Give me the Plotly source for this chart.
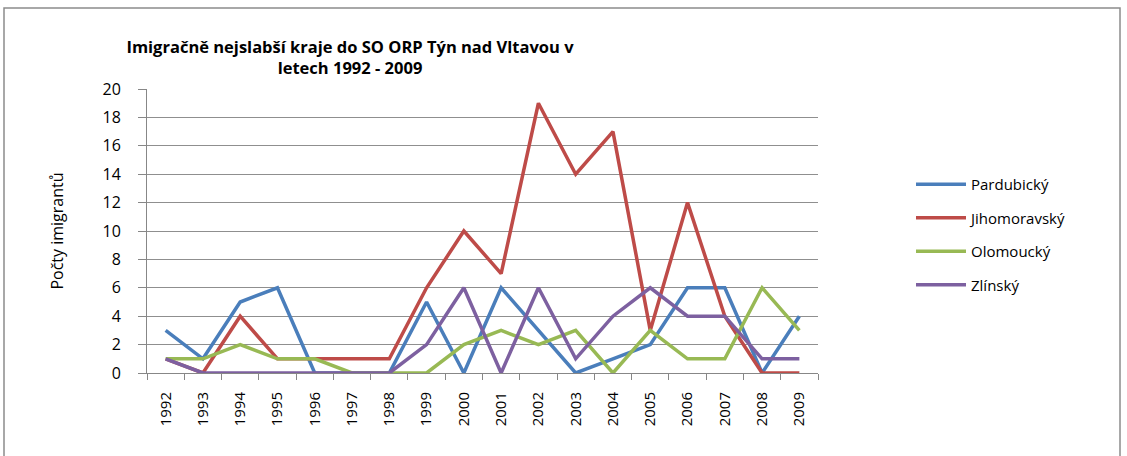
import plotly.graph_objects as go

years = [str(y) for y in range(1992, 2010)]
pardubicky = [3, 1, 5, 6, 0, 0, 0, 5, 0, 6, 3, 0, 1, 2, 6, 6, 0, 4]
jihomoravsky = [1, 0, 4, 1, 1, 1, 1, 6, 10, 7, 19, 14, 17, 3, 12, 4, 0, 0]
olomoucky = [1, 1, 2, 1, 1, 0, 0, 0, 2, 3, 2, 3, 0, 3, 1, 1, 6, 3]
zlinsky = [1, 0, 0, 0, 0, 0, 0, 2, 6, 0, 6, 1, 4, 6, 4, 4, 1, 1]

series = [
    ("Pardubický", pardubicky, "#4a7ebb"),
    ("Jihomoravský", jihomoravsky, "#be4b48"),
    ("Olomoucký", olomoucky, "#98b954"),
    ("Zlínský", zlinsky, "#7d60a0"),
]

W, H = 1127, 456
L, R, T, B = 147, 818, 89, 373

fig = go.Figure()
for name, vals, col in series:
    fig.add_trace(go.Scatter(x=years, y=vals, name=name, mode="lines", legendgroup=name,
                             line=dict(color=col, width=3.5), cliponaxis=False))

font = "Open Sans, sans-serif"
pw = R - L
ph = B - T

fig.update_layout(
    width=W, height=H,
    margin=dict(l=L, r=W - R, t=T, b=H - B),
    paper_bgcolor="white", plot_bgcolor="white",
    title=dict(text="<b>Imigračně nejslabší kraje do SO ORP Týn nad Vltavou v<br>letech 1992 - 2009</b>",
               x=(350 - L) / pw, xref="paper", xanchor="center",
               y=1 - 53 / H, yanchor="top",
               font=dict(family=font, size=16.5, color="#000")),
    font=dict(family=font, size=15, color="#000"),
    legend=dict(x=(911 - L) / pw, y=(B - 168) / ph, xanchor="left", yanchor="top",
                font=dict(family=font, size=15, color="#000"),
                tracegroupgap=11, itemwidth=50, bgcolor="rgba(0,0,0,0)"),
    showlegend=True,
    shapes=[dict(type="rect", xref="paper", yref="paper",
                 x0=(4 - L) / pw, x1=(1120 - L) / pw,
                 y0=(B - 470) / ph, y1=(B - 8) / ph,
                 line=dict(color="#8c8c8c", width=1.5), layer="below")],
)
fig.update_xaxes(type="category", range=[-0.5, 17.5], tickangle=-90,
                 showline=True, linecolor="#878787", linewidth=1,
                 ticks="outside", tickson="boundaries", ticklen=6, tickcolor="#878787",
                 ticklabelstandoff=12,
                 showgrid=False, tickfont=dict(size=15))
fig.update_yaxes(range=[0, 20], dtick=2, showline=True, linecolor="#878787", linewidth=1,
                 ticks="outside", ticklen=8, tickcolor="#878787",
                 ticklabelstandoff=14,
                 showgrid=True, gridcolor="#8f8f8f", gridwidth=1, zeroline=False,
                 title=dict(text="Počty imigrantů", font=dict(size=16), standoff=34),
                 tickfont=dict(size=16))

fig.write_html("out.html", config={"displayModeBar": False},
               post_script="document.body.style.margin='0';")
